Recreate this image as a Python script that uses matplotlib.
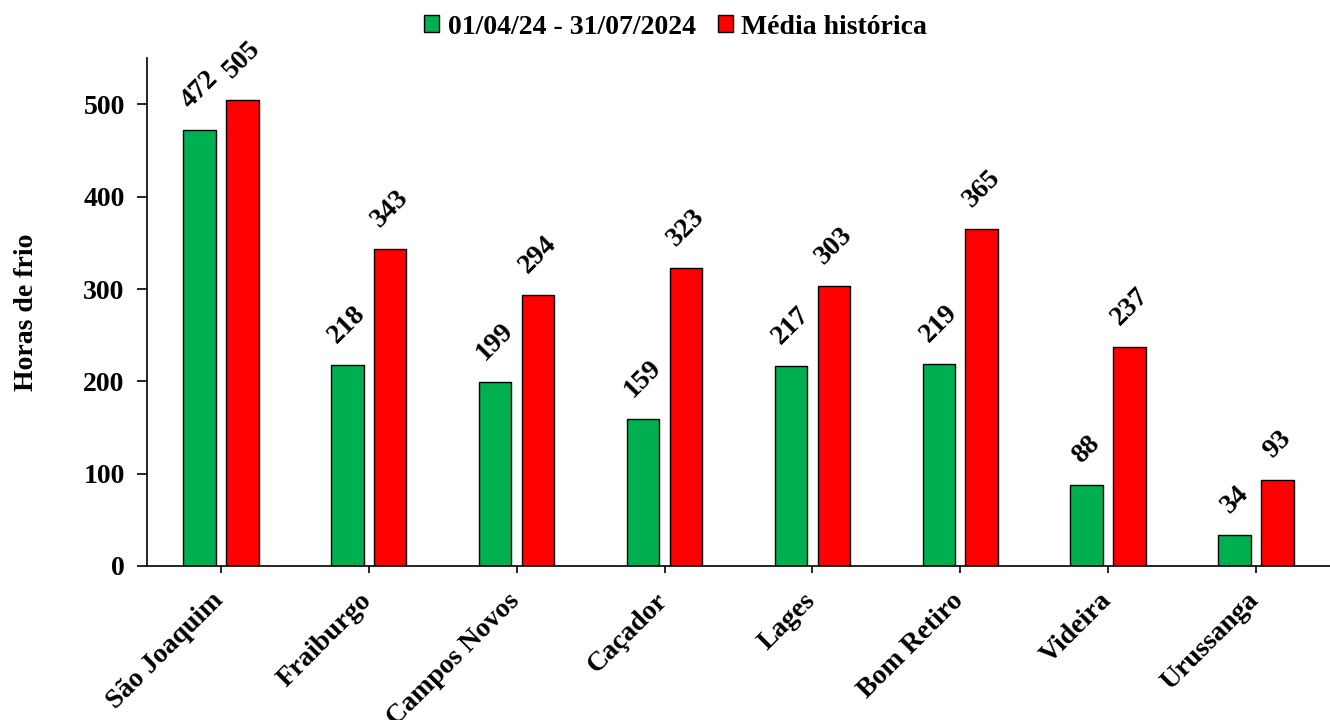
import numpy as np
import matplotlib
matplotlib.use("Agg")
import matplotlib.pyplot as plt
import matplotlib.transforms as mtransforms
from matplotlib.patches import Patch

cities = ["São Joaquim", "Fraiburgo", "Campos Novos", "Caçador", "Lages",
          "Bom Retiro", "Videira", "Urussanga"]
periodo_2024 = [472, 218, 199, 159, 217, 219, 88, 34]
media_historica = [505, 343, 294, 323, 303, 365, 237, 93]
series_labels = ["01/04/24 - 31/07/2024", "Média histórica"]

plt.rcParams["font.family"] = ["Liberation Serif", "DejaVu Serif"]
plt.rcParams["font.weight"] = "bold"

fig = plt.figure(figsize=(13.3, 7.2), dpi=100)
ax = fig.add_axes([0.1105, 0.214, 0.8895, 0.705])

x = np.arange(len(cities))
width = 0.22
offset = 0.145
green = "#00B050"
red = "#FF0000"

b1 = ax.bar(x - offset, periodo_2024, width, color=green, edgecolor="black", linewidth=1)
b2 = ax.bar(x + offset, media_historica, width, color=red, edgecolor="black", linewidth=1)

# rotated value labels above each bar
for bars in (b1, b2):
    for rect in bars:
        h = rect.get_height()
        ax.annotate(f"{int(h)}", (rect.get_x() + rect.get_width() / 2, h),
                    xytext=(0, 12), textcoords="offset points",
                    ha="center", va="bottom", rotation=45,
                    fontsize=20, fontweight="bold")

ax.set_xlim(-0.5, 7.5)
ax.set_ylim(0, 550)
ax.set_yticks([0, 100, 200, 300, 400, 500])
ax.set_xticks(x)
ax.set_xticklabels(cities, rotation=45, ha="right", fontsize=20, fontweight="bold")
ax.tick_params(axis="y", labelsize=20, direction="out", length=7, width=1.2, pad=9)
ax.tick_params(axis="x", direction="out", length=5, width=1.2, pad=11)
for lab in ax.get_yticklabels():
    lab.set_fontweight("bold")

# nudge the rotated city names a bit to the right, like the original
shift = mtransforms.ScaledTranslation(8 / 100, 0, fig.dpi_scale_trans)
for lab in ax.get_xticklabels():
    lab.set_transform(lab.get_transform() + shift)

ax.set_ylabel("Horas de frio", fontsize=20, fontweight="bold", labelpad=32)
ax.spines["top"].set_visible(False)
ax.spines["right"].set_visible(False)
ax.spines["left"].set_linewidth(1.2)
ax.spines["bottom"].set_linewidth(1.2)

handles = [Patch(facecolor=green, edgecolor="black"),
           Patch(facecolor=red, edgecolor="black")]
fig.legend(handles, series_labels, loc="center", bbox_to_anchor=(0.508, 0.9625),
           ncol=2, frameon=False, handlelength=0.55, handleheight=0.55,
           handletextpad=0.3, columnspacing=0.8,
           prop={"size": 20, "weight": "bold"})

fig.savefig("out.png", dpi=100)
